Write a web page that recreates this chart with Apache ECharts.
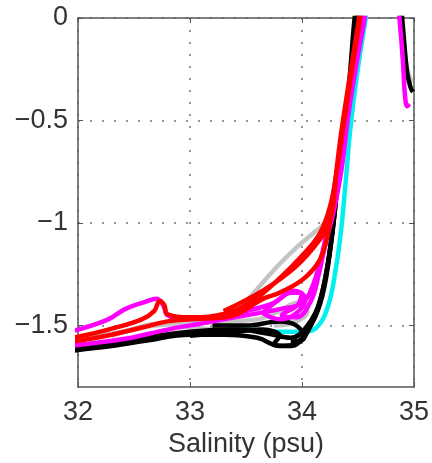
<!DOCTYPE html>
<html>
<head>
<meta charset="utf-8">
<script src="https://cdn.jsdelivr.net/npm/echarts@6/dist/echarts.min.js"></script>
<style>html,body{margin:0;padding:0;background:#fff}#c{width:432px;height:463px}</style>
</head>
<body>
<div id="c"></div>
<script>
const xTicks = [32, 33, 34, 35];
const yTicks = [0, -0.5, -1, -1.5];
const xName = 'Salinity (psu)';

const gray1 = [[33.3,-1.45],[33.5,-1.38],[33.65,-1.29],[33.8,-1.2],[33.95,-1.12],[34.1,-1.05],[34.2,-1.0],[34.28,-0.9]];
const gray2 = [[31.9,-1.57],[32.0,-1.565],[32.4,-1.53],[32.7,-1.5],[33.0,-1.49],[33.3,-1.48],[33.6,-1.47],[33.8,-1.43],[33.95,-1.39],[34.05,-1.43],[33.9,-1.49],[33.75,-1.5]];
const gray3 = [[32.3,-1.55],[32.6,-1.5],[32.75,-1.49],[33.0,-1.51],[33.3,-1.52]];
const grayHook = [[34.86,0.1],[34.9,-0.1],[34.94,-0.25],[34.97,-0.3],[34.99,-0.31]];

const cyan1 = [[33.15,-1.53],[33.5,-1.52],[33.8,-1.53],[34.0,-1.53],[34.13,-1.51],[34.23,-1.41],[34.3,-1.23],[34.35,-1.03],[34.39,-0.8],[34.43,-0.55],[34.49,-0.28],[34.57,0],[34.6,0.1]];

const black1 = [[31.9,-1.63],[32.0,-1.62],[32.3,-1.6],[32.6,-1.575],[33.0,-1.545],[33.3,-1.545],[33.6,-1.56],[33.8,-1.6],[33.95,-1.59],[34.08,-1.5],[34.18,-1.36],[34.26,-1.1],[34.33,-0.75],[34.42,-0.32],[34.47,0],[34.5,0.1]];
const black2 = [[31.9,-1.6],[32.0,-1.6],[32.5,-1.565],[33.0,-1.53],[33.4,-1.52],[33.7,-1.54],[33.9,-1.56],[34.05,-1.5],[34.16,-1.38],[34.25,-1.13],[34.33,-0.73],[34.43,-0.3],[34.49,0],[34.52,0.1]];
const black3 = [[33.0,-1.55],[33.4,-1.53],[33.65,-1.52],[33.8,-1.55],[33.75,-1.59],[33.9,-1.6],[34.04,-1.53],[34.14,-1.42],[34.23,-1.2],[34.3,-0.9]];
const black4 = [[33.2,-1.5],[33.5,-1.5],[33.8,-1.48],[33.95,-1.5],[34.02,-1.56],[33.9,-1.58]];
const blackHook = [[34.88,0.1],[34.91,-0.1],[34.94,-0.27],[34.97,-0.34],[34.99,-0.36]];

const magenta1 = [[31.9,-1.53],[32.0,-1.52],[32.27,-1.47],[32.42,-1.42],[32.6,-1.385],[32.7,-1.37],[32.76,-1.4],[32.8,-1.45],[32.95,-1.47],[33.2,-1.46],[33.5,-1.43],[33.75,-1.39],[33.9,-1.34],[34.0,-1.34],[33.96,-1.4],[33.82,-1.45],[33.95,-1.46],[34.08,-1.38],[34.15,-1.25],[34.21,-1.1],[34.28,-0.95],[34.35,-0.75],[34.42,-0.45],[34.51,-0.15],[34.56,0],[34.58,0.1]];
const magenta2 = [[31.9,-1.6],[32.0,-1.595],[32.42,-1.565],[32.8,-1.52],[33.1,-1.49],[33.5,-1.45],[33.8,-1.42],[34.0,-1.39],[34.1,-1.3],[34.2,-1.1],[34.3,-0.82],[34.39,-0.5],[34.5,-0.15],[34.55,0.1]];
const magenta3 = [[33.65,-1.44],[33.8,-1.37],[33.93,-1.33],[34.03,-1.37],[33.95,-1.44],[33.8,-1.47],[33.65,-1.44]];
const magentaHook = [[34.85,0.1],[34.87,0],[34.9,-0.2],[34.92,-0.38],[34.94,-0.43],[34.96,-0.42]];

const red1 = [[31.9,-1.56],[32.0,-1.555],[32.27,-1.52],[32.57,-1.47],[32.68,-1.43],[32.73,-1.38],[32.77,-1.4],[32.8,-1.445],[33.0,-1.46],[33.33,-1.44],[33.56,-1.38],[33.78,-1.28],[34.0,-1.16],[34.16,-1.05],[34.25,-0.92],[34.31,-0.75],[34.37,-0.53],[34.45,-0.24],[34.52,0],[34.55,0.1]];
const red2 = [[31.9,-1.58],[32.0,-1.575],[32.3,-1.545],[32.57,-1.51],[32.8,-1.48],[33.0,-1.47],[33.36,-1.455],[33.65,-1.37],[33.8,-1.34],[34.04,-1.26],[34.19,-1.14],[34.27,-0.9],[34.35,-0.56],[34.44,-0.24],[34.51,0],[34.54,0.1]];
const red3 = [[33.3,-1.43],[33.65,-1.33],[33.95,-1.21],[34.16,-1.08],[34.25,-0.99],[34.3,-0.8]];

const groups = [
  {color:'#c4c4c4', lines:[gray1, gray2, gray3, grayHook]},
  {color:'#00f0f0', lines:[cyan1]},
  {color:'#000000', lines:[black1, black2, black3, black4, blackHook]},
  {color:'#ff00ff', lines:[magenta1, magenta2, magenta3, magentaHook]},
  {color:'#ff0000', lines:[red1, red2, red3]}
];

const series = [];
groups.forEach(g => g.lines.forEach(d => series.push({
  type:'line', data:d, smooth:0.4, showSymbol:false, symbol:'none', clip:true,
  lineStyle:{color:g.color, width:4.5}, silent:true, animation:false
})));

const fontFam = '"Liberation Sans", Arial, sans-serif';
const txt = '#333';
const axisCol = '#555';
const gridLine = {show:true, lineStyle:{color:'#777', type:[2,10], width:1.5}};

const chart = echarts.init(document.getElementById('c'), null, {renderer:'canvas'});
chart.setOption({
  animation:false,
  backgroundColor:'#fff',
  grid:{left:78, right:18, top:18, bottom:76, containLabel:false},
  xAxis:[{
    type:'value', min:32, max:35, interval:1, position:'bottom',
    name:xName, nameLocation:'middle', nameGap:40,
    nameTextStyle:{fontSize:27, color:txt, fontFamily:fontFam},
    axisLine:{show:true, onZero:false, lineStyle:{color:axisCol, width:1.5}},
    axisTick:{show:true, inside:true, length:5, lineStyle:{color:axisCol}},
    axisLabel:{fontSize:27, color:txt, fontFamily:fontFam, margin:12,
      customValues:xTicks},
    splitLine:gridLine
  },{
    type:'value', min:32, max:35, interval:1, position:'top',
    axisLine:{show:true, onZero:false, lineStyle:{color:axisCol, width:1.5}},
    axisTick:{show:true, inside:true, length:5, lineStyle:{color:axisCol}},
    axisLabel:{show:false}, splitLine:{show:false}
  }],
  yAxis:[{
    type:'value', min:-1.8, max:0, position:'left',
    axisLine:{show:true, onZero:false, lineStyle:{color:axisCol, width:1.5}},
    axisTick:{show:true, inside:true, length:5, lineStyle:{color:axisCol}, customValues:yTicks},
    axisLabel:{fontSize:27, color:txt, fontFamily:fontFam, margin:10, customValues:yTicks,
      formatter:v => String(v).replace('-', '\u2212')},
    splitLine:gridLine
  },{
    type:'value', min:-1.8, max:0, position:'right',
    axisLine:{show:true, onZero:false, lineStyle:{color:axisCol, width:1.5}},
    axisTick:{show:true, inside:true, length:5, lineStyle:{color:axisCol}, customValues:yTicks},
    axisLabel:{show:false}, splitLine:{show:false}
  }],
  series:series
});
</script>
</body>
</html>
